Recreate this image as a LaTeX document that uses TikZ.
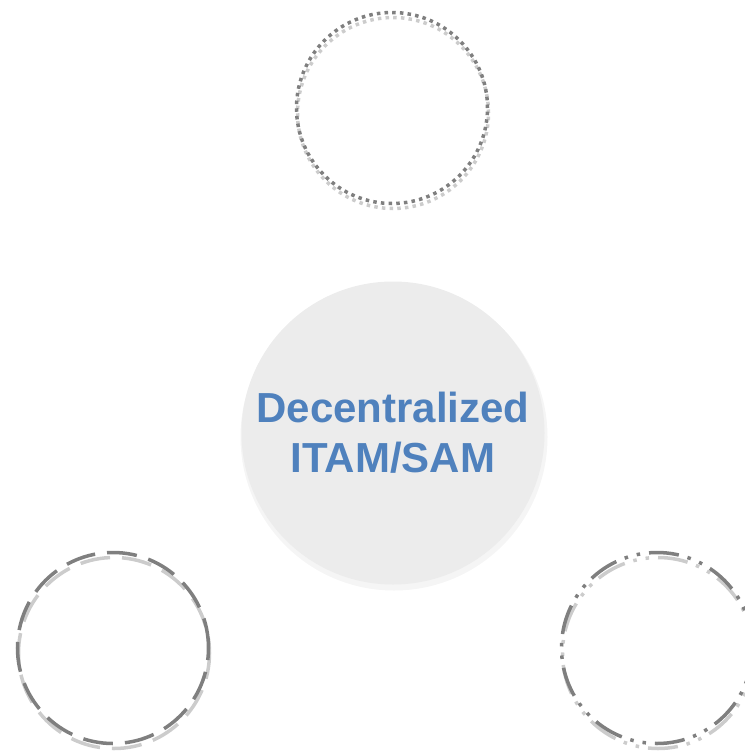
\documentclass[tikz,border=0pt]{standalone}
\usepackage{fontspec}
\setmainfont{Liberation Sans}
\begin{document}
\begin{tikzpicture}[x=1pt,y=-1pt]
\definecolor{ringdark}{HTML}{7F7F7F}
\definecolor{ringlight}{HTML}{CCCCCC}
\definecolor{hubfill}{HTML}{ECECEC}
\definecolor{hubshadow}{HTML}{F5F5F5}
\definecolor{hubtext}{HTML}{4F81BD}
\tikzset{
  ring/.style={circle, draw, line width=3.5pt, minimum size=191pt, inner sep=0pt},
  dotring/.style={ring, dash pattern=on 3.5pt off 4.2pt},
  longring/.style={ring, dash pattern=on 30pt off 12pt},
  dashdotring/.style={ring, dash pattern=on 30pt off 9pt on 3.5pt off 9pt on 3.5pt off 9pt},
}
\useasboundingbox (0,0) rectangle (744,752);
% top circle
\node[dotring, draw=ringlight] (topL) at (393,113) {};
\node[dotring, draw=ringdark] (top) at (392,108) {};
% bottom left
\node[longring, draw=ringlight, dash phase=14pt] (blL) at (114,653) {};
\node[longring, draw=ringdark] (bl) at (113,648) {};
% bottom right
\node[dashdotring, draw=ringlight, dash phase=8pt] (brL) at (658,653) {};
\node[dashdotring, draw=ringdark] (br) at (657,648) {};
% hub
\node[circle, fill=hubshadow, minimum size=307pt, inner sep=0pt] (hubS) at (394,437) {};
\node[circle, fill=hubfill, minimum size=303pt, inner sep=0pt, align=center,
      text=hubtext, font=\fontsize{42}{50}\selectfont\bfseries] (hub) at (393,433)
      {Decentralized\\ITAM/SAM};
\end{tikzpicture}
\end{document}
